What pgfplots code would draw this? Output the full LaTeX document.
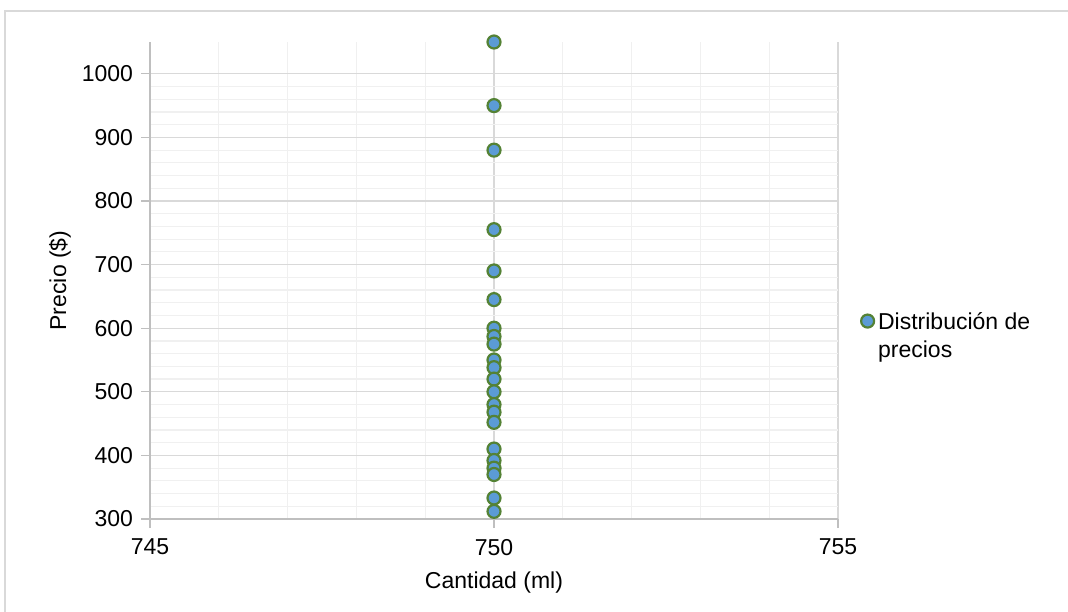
\documentclass[border=0pt]{standalone}
\usepackage{pgfplots}
\pgfplotsset{compat=1.18}
\usepackage{fontspec}
\setmainfont{Liberation Sans}
\definecolor{majgrid}{RGB}{217,217,217}
\definecolor{mingrid}{RGB}{240,240,240}
\definecolor{axgray}{RGB}{191,191,191}
\definecolor{frame}{RGB}{217,217,217}
\definecolor{ptfill}{RGB}{91,155,213}
\definecolor{ptedge}{RGB}{84,130,53}
\begin{document}
\fontsize{11.5}{14}\selectfont
\begin{tikzpicture}
\useasboundingbox (0,0) rectangle (534pt,305.5pt);
\draw[frame, line width=1pt] (2.25pt,-20pt) -- (2.25pt,300pt) -- (600pt,300pt);
\begin{axis}[
  at={(75pt,46pt)}, anchor=south west,
  scale only axis, width=344pt, height=238.5pt,
  xmin=745, xmax=755, ymin=300, ymax=1050,
  xtick={745,750,755}, ytick={300,400,...,1000},
  minor x tick num=4, minor y tick num=4,
  grid=both,
  major grid style={majgrid, line width=0.6pt},
  minor grid style={mingrid, line width=0.6pt},
  axis x line*=bottom, axis y line*=left,
  axis line style={axgray, line width=0.6pt},
  tick align=outside,
  major tick length=4.5pt, minor tick length=0pt,
  tick style={axgray, line width=0.6pt},
  xticklabel style={yshift=-1.5pt},
  /pgf/number format/assume math mode=true,
  /pgf/number format/1000 sep={},
  xlabel={Cantidad (ml)}, ylabel={Precio (\$)},
  xlabel style={at={(axis description cs:0.5,-0.134)}, anchor=center},
  ylabel style={at={(axis description cs:-0.131,0.5)}, anchor=center},
  legend style={at={(axis description cs:1.033,0.415)}, anchor=west, draw=none, fill=none, inner sep=0pt,
    font=\fontsize{11.5}{14}\selectfont},
  legend image code/.code={\draw[#1] plot coordinates {(0pt,0pt)};},
  legend cell align=left,
]
\addplot[only marks, mark=*, mark size=3.25pt, mark options={fill=ptfill, draw=ptedge, line width=1.1pt}]
coordinates {
(750,1050) (750,950) (750,880) (750,755) (750,690) (750,645)
(750,600) (750,587) (750,575) (750,550) (750,538) (750,520)
(750,500) (750,480) (750,468) (750,452) (750,410) (750,392)
(750,380) (750,370) (750,333) (750,312)
};
\addlegendentry{\begin{tabular}[t]{@{}l@{}}Distribución de\\precios\end{tabular}}
\end{axis}
\end{tikzpicture}
\end{document}
